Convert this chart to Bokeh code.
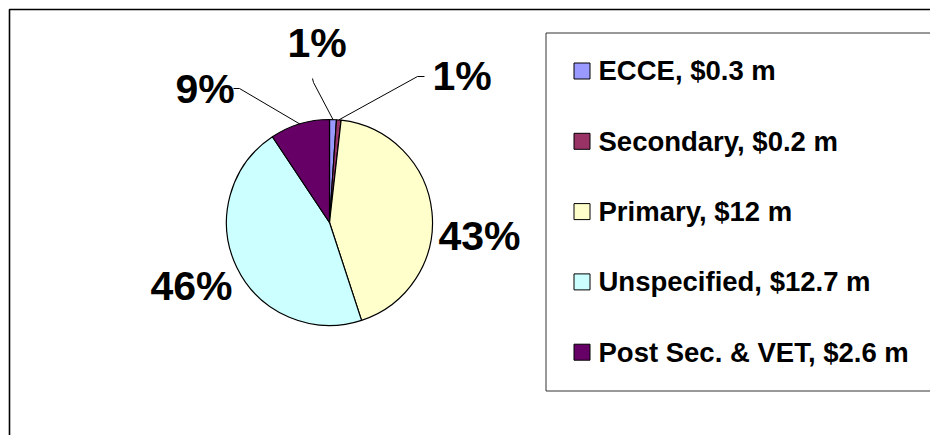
import numpy as np
from bokeh.plotting import figure
from bokeh.models import Range1d, ColumnDataSource
from bokeh.core.properties import value
from bokeh.embed import file_html
from bokeh.resources import INLINE

# ---- data ----
categories = ["ECCE", "Secondary", "Primary", "Unspecified", "Post Sec. & VET"]
amounts = [0.3, 0.2, 12, 12.7, 2.6]          # $ million
colors = ["#9999FF", "#993366", "#FFFFCC", "#CCFFFF", "#660066"]

# ---- layout (page pixels) ----
W, H = 930, 435
FONT = "Liberation Sans"
CX, CY, R = 329, 222, 103                     # pie centre / radius
LBL_FS, LEG_FS = 41, 27.5
BASE_FIX = 0.36                               # svg baseline compensation (em)
label_pos = [(287, 57), (432, 90), (438, 250), (150, 300), (175, 103)]  # left, baseline
leader_kind = [(312, 78, 313, 82), (424, 76, 417, 76), None, None, (233, 88, 239, 88)]
leg_sq_x, leg_txt_x, leg_y0, leg_dy, leg_sq = 581.5, 598, 70.5, 70.3, 16
leg_box = (545.5, 32.5, 960, 390.5)
frame_pts = [(9, 445), (9, 9), (945, 9)]


def px(x):
    return x


def py(y):
    return H - y


p = figure(width=W, height=H, x_range=Range1d(0, W), y_range=Range1d(0, H),
           output_backend="svg", toolbar_location=None, min_border=0)
p.axis.visible = False
p.grid.visible = False
p.outline_line_color = None
p.background_fill_color = "white"
p.border_fill_color = "white"

# outer chart border (left & top visible in the window)
p.line(x=[px(a) for a, b in frame_pts], y=[py(b) for a, b in frame_pts],
       line_color="black", line_width=1.6)

vals = np.array(amounts, dtype=float)
frac = vals / vals.sum()
cum = np.cumsum(frac)
start = np.pi / 2 - 2 * np.pi * (cum - frac)
end = np.pi / 2 - 2 * np.pi * cum
mid = (start + end) / 2

src = ColumnDataSource(dict(start=start, end=end, color=colors))
p.wedge(x=px(CX), y=py(CY), radius=R, start_angle="start", end_angle="end",
        direction="clock", fill_color="color", line_color="black", line_width=1.2,
        source=src)

# percent labels
pct = ["%d%%" % round(f * 100) for f in frac]
p.text(x=[px(a) for a, b in label_pos],
       y=[py(b - BASE_FIX * LBL_FS) for a, b in label_pos], text=pct,
       text_font=value(FONT), text_font_style="bold", text_font_size="%gpx" % LBL_FS,
       text_align="left", text_baseline="alphabetic", text_color="black")

# leader lines
xs, ys = [], []
for i, lk in enumerate(leader_kind):
    if lk is None:
        continue
    ex = CX + R * np.cos(mid[i])
    ey = CY - R * np.sin(mid[i])
    xs.append([px(lk[0]), px(lk[2]), px(ex)])
    ys.append([py(lk[1]), py(lk[3]), py(ey)])
p.multi_line(xs=xs, ys=ys, line_color="black", line_width=1)

# legend box
p.quad(left=px(leg_box[0]), right=px(leg_box[2]), top=py(leg_box[1]), bottom=py(leg_box[3]),
       fill_color="white", line_color="#333333", line_width=1)

leg_labels = ["%s, $%g m" % (c, v) for c, v in zip(categories, amounts)]
leg_ys = [leg_y0 + i * leg_dy for i in range(len(categories))]
p.rect(x=[px(leg_sq_x)] * len(categories), y=[py(y) for y in leg_ys], width=leg_sq, height=leg_sq,
       fill_color=colors, line_color="black", line_width=1)
p.text(x=[px(leg_txt_x)] * len(categories),
       y=[py(y + 0.358 * LEG_FS - BASE_FIX * LEG_FS) for y in leg_ys], text=leg_labels,
       text_font=value(FONT), text_font_style="bold", text_font_size="%gpx" % LEG_FS,
       text_align="left", text_baseline="alphabetic", text_color="black")

open("out.html", "w").write(file_html(p, INLINE))
